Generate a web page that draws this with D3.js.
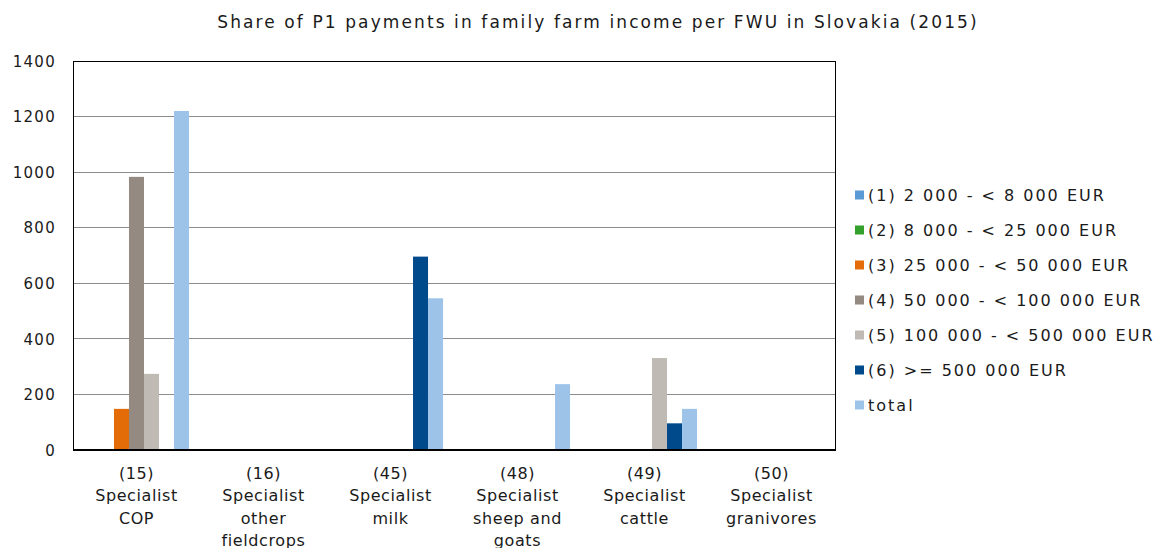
<!DOCTYPE html>
<html>
<head>
<meta charset="utf-8">
<script src="https://cdn.jsdelivr.net/npm/d3@7"></script>
<style>
  html, body { margin: 0; padding: 0; background: #fff; }
  svg { display: block; }
  text { font-family: "DejaVu Sans", Verdana, sans-serif; fill: #1a1a1a; }
</style>
</head>
<body>
<svg id="chart" width="1155" height="548"></svg>
<script>
// Farm types (categories along the x axis)
const categories = [
  ["(15)", "Specialist", "COP"],
  ["(16)", "Specialist", "other", "fieldcrops"],
  ["(45)", "Specialist", "milk"],
  ["(48)", "Specialist", "sheep and", "goats"],
  ["(49)", "Specialist", "cattle"],
  ["(50)", "Specialist", "granivores"]
];

// Economic size classes
const seriesNames = [
  "(1) 2 000 - < 8 000 EUR",
  "(2) 8 000 - < 25 000 EUR",
  "(3) 25 000 - < 50 000 EUR",
  "(4) 50 000 - < 100 000 EUR",
  "(5) 100 000 - < 500 000 EUR",
  "(6) >= 500 000 EUR",
  "total"
];
const seriesColors = ["#5b9bd5", "#33a02c", "#e36c09", "#948a82", "#bfbbb4", "#004a8c", "#9dc3e9"];

// Values per size class, one entry per farm type (null = no value)
const size1 = [null, null, null, null, null, null];
const size2 = [null, null, null, null, null, null];
const size3 = [148, null, null, null, null, null];
const size4 = [983, null, null, null, null, null];
const size5 = [274, null, null, null, 331, null];
const size6 = [null, null, 696, null, 96, null];
const total = [1220, null, 546, 237, 148, null];
const seriesValues = [size1, size2, size3, size4, size5, size6, total];

const yTicks = [0, 200, 400, 600, 800, 1000, 1200, 1400];

const svg = d3.select("#chart");
const plot = { left: 73, right: 835, top: 61, bottom: 450 };

const x0 = d3.scaleBand()
  .domain(d3.range(categories.length))
  .range([plot.left, plot.right])
  .paddingInner(0)
  .paddingOuter(0);

const x1 = d3.scaleBand()
  .domain(d3.range(seriesNames.length))
  .range([0, x0.bandwidth()])
  .paddingInner(0)
  .paddingOuter(0.73);

const y = d3.scaleLinear().domain([0, 1400]).range([plot.bottom, plot.top]);

// Title
svg.append("text")
  .attr("x", 598).attr("y", 28)
  .attr("text-anchor", "middle")
  .style("font-size", "17px")
  .style("letter-spacing", "2.1px")
  .text("Share of P1 payments in family farm income per FWU in Slovakia (2015)");

// Gridlines
svg.append("g")
  .selectAll("line")
  .data(yTicks.filter(t => t > 0 && t < 1400))
  .join("line")
  .attr("x1", plot.left).attr("x2", plot.right)
  .attr("y1", d => y(d)).attr("y2", d => y(d))
  .attr("stroke", "#8c8c8c").attr("stroke-width", 1)
  .attr("shape-rendering", "crispEdges");

// Y axis labels
const yAxis = d3.axisLeft(y).tickValues(yTicks).tickFormat(d3.format("d")).tickSize(0).tickPadding(17);
const yg = svg.append("g").attr("transform", `translate(${plot.left},0)`).call(yAxis);
yg.select(".domain").remove();
yg.selectAll("text")
  .style("font-family", "'DejaVu Sans', Verdana, sans-serif")
  .style("font-size", "15px")
  .style("letter-spacing", "1.3px")
  .attr("fill", "#1a1a1a").attr("dy", "0.35em");

// Bars
const groups = svg.append("g")
  .selectAll("g")
  .data(categories.map((c, i) => i))
  .join("g")
  .attr("transform", i => `translate(${x0(i)},0)`);

groups.selectAll("rect")
  .data(i => seriesValues.map((s, k) => ({ k, v: s[i] })).filter(d => d.v != null))
  .join("rect")
  .attr("x", d => x1(d.k))
  .attr("width", x1.bandwidth())
  .attr("y", d => y(d.v))
  .attr("height", d => y(0) - y(d.v))
  .attr("fill", d => seriesColors[d.k]);

// Plot frame
svg.append("rect")
  .attr("x", plot.left).attr("y", plot.top)
  .attr("width", plot.right - plot.left).attr("height", plot.bottom - plot.top)
  .attr("fill", "none").attr("stroke", "#000").attr("stroke-width", 1)
  .attr("shape-rendering", "crispEdges");
svg.append("line")
  .attr("x1", plot.left).attr("x2", plot.right)
  .attr("y1", plot.bottom).attr("y2", plot.bottom)
  .attr("stroke", "#000").attr("stroke-width", 2);

// Category labels, wrapped over several lines
const xg = svg.append("g");
categories.forEach((lines, i) => {
  const cx = x0(i) + x0.bandwidth() / 2;
  const t = xg.append("text")
    .attr("x", cx)
    .attr("y", 479)
    .attr("text-anchor", "middle")
    .style("font-size", "16px")
    .style("letter-spacing", "0.6px");
  lines.forEach((ln, j) => {
    t.append("tspan")
      .attr("x", cx)
      .attr("dy", j === 0 ? 0 : 22.3)
      .text(ln);
  });
});

// Legend
const legend = svg.append("g").attr("transform", "translate(855,195)");
seriesNames.forEach((name, k) => {
  const row = legend.append("g").attr("transform", `translate(0,${k * 35})`);
  row.append("rect")
    .attr("x", 0).attr("y", -4.5).attr("width", 9).attr("height", 9)
    .attr("fill", seriesColors[k]);
  row.append("text")
    .attr("x", 13).attr("y", 0).attr("dy", "0.35em")
    .style("font-size", "16px")
    .style("letter-spacing", "2px")
    .text(name);
});
</script>
</body>
</html>
